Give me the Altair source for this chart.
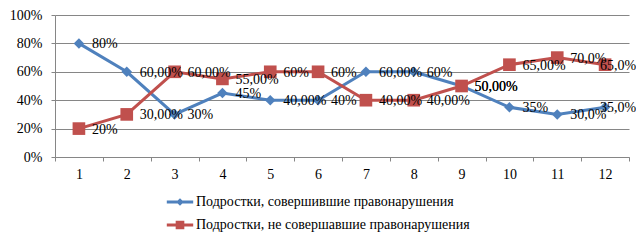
import altair as alt
import pandas as pd

categories = [str(i) for i in range(1, 13)]
series_names = ["Подростки, совершившие правонарушения",
                "Подростки, не совершавшие правонарушения"]
blue_values = [0.80, 0.60, 0.30, 0.45, 0.40, 0.40, 0.60, 0.60, 0.50, 0.35, 0.30, 0.35]
red_values = [0.20, 0.30, 0.60, 0.55, 0.60, 0.60, 0.40, 0.40, 0.50, 0.65, 0.70, 0.65]
blue_labels = ["80%", "60,00%", "30%", "45%", "40,00%", "40%", "60,00%", "60%",
               "50,00%", "35%", "30,0%", "35,0%"]
red_labels = ["20%", "30,00%", "60,00%", "55,00%", "60%", "60%", "40,00%", "40,00%",
              "50,00%", "65,00%", "70,0%", "65,0%"]

rows = []
for c, v, l in zip(categories, blue_values, blue_labels):
    rows.append({"cat": c, "series": series_names[0], "value": v, "label": l, "order": 0})
for c, v, l in zip(categories, red_values, red_labels):
    rows.append({"cat": c, "series": series_names[1], "value": v, "label": l, "order": 1})
df = pd.DataFrame(rows)

BLUE = "#4F81BD"
RED = "#C0504D"
GRID = "#868686"
FONT = "Liberation Serif, Times New Roman, serif"

x = alt.X("cat:O", sort=categories, title=None,
          scale=alt.Scale(paddingInner=0, paddingOuter=0),
          axis=alt.Axis(labelAngle=0, tickBand="extent", labelFont=FONT, labelFontSize=14,
                        labelColor="black", labelPadding=6, tickSize=4, tickColor=GRID,
                        domainColor=GRID, grid=False))
y = alt.Y("value:Q", title=None, scale=alt.Scale(domain=[0, 1]),
          axis=alt.Axis(format=".0%", values=[0, 0.2, 0.4, 0.6, 0.8, 1.0], labelFont=FONT,
                        labelFontSize=14, labelColor="black", labelPadding=9, tickSize=4,
                        tickColor=GRID, domainColor=GRID, gridColor=GRID, grid=True))

base = alt.Chart(df)
blue_data = base.transform_filter(alt.datum.order == 0)
red_data = base.transform_filter(alt.datum.order == 1)

blue_line = blue_data.mark_line(strokeWidth=3, color=BLUE).encode(x=x, y=y)
red_line = red_data.mark_line(strokeWidth=3, color=RED).encode(x=x, y=y)
blue_pts = blue_data.mark_point(shape="diamond", filled=True, size=110, opacity=1, color=BLUE).encode(x=x, y=y)
red_pts = red_data.mark_point(shape="square", filled=True, size=160, opacity=1, color=RED).encode(x=x, y=y)

labels_main = base.transform_filter(alt.datum.cat != "12").mark_text(
    align="left", baseline="middle", dx=13, dy=1, font=FONT, fontSize=14, color="black"
).encode(x=x, y=y, text="label:N")
labels_last = base.transform_filter(alt.datum.cat == "12").mark_text(
    align="left", baseline="middle", dx=-5, dy=1, font=FONT, fontSize=14, color="black"
).encode(x=x, y=y, text="label:N")

line_path = "M-1.1,-0.12 L1.1,-0.12 L1.1,0.12 L-1.1,0.12 Z"
diamond_path = line_path + " M0,-0.32 L0.32,0 L0,0.32 L-0.32,0 Z"
square_path = line_path + " M-0.36,-0.36 L0.36,-0.36 L0.36,0.36 L-0.36,0.36 Z"

legend_props = dict(title=None, orient="none", legendX=112, legendY=174,
                    direction="vertical", symbolSize=576, symbolOpacity=1,
                    labelFont=FONT, labelFontSize=14, labelLimit=500,
                    labelColor="black", labelOffset=3)

# legend-only layer: its points are moved below the plot and clipped away
legend_layer = base.transform_calculate(value="-1").mark_point(filled=True, clip=True).encode(
    x=x, y=y,
    fill=alt.Fill("series:N", scale=alt.Scale(domain=series_names, range=[BLUE, RED]),
                  legend=alt.Legend(**legend_props)),
    shape=alt.Shape("series:N", scale=alt.Scale(domain=series_names, range=[diamond_path, square_path]),
                    legend=alt.Legend(**legend_props)),
)

chart = alt.layer(blue_line, red_line, blue_pts, red_pts, labels_main, labels_last, legend_layer).properties(
    width=574, height=142,
    autosize=alt.AutoSizeParams(type="none"),
    padding={"left": 47, "top": 7, "right": 7, "bottom": 81},
).configure_view(stroke=None).configure_legend(
    labelFont=FONT, labelFontSize=14, labelColor="black", rowPadding=3
)

chart.save("out.html", embed_options={"renderer": "svg", "actions": False})
